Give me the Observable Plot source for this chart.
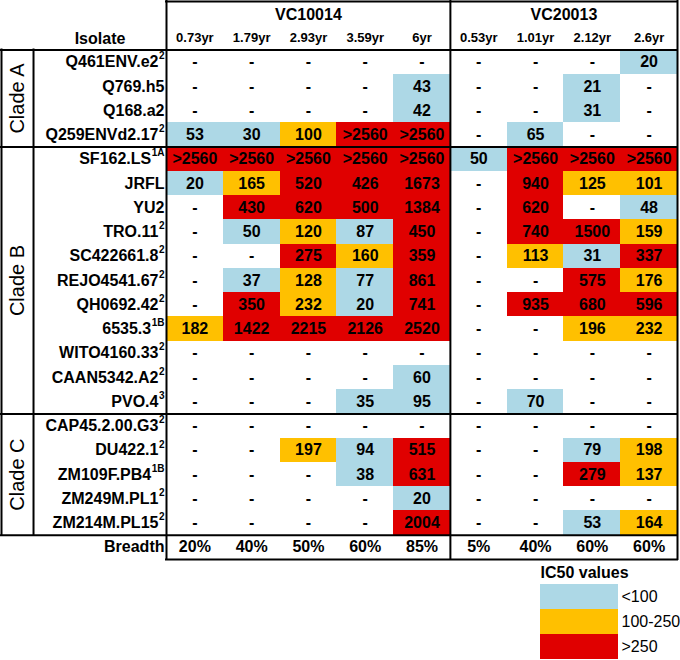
<!DOCTYPE html>
<html><head><meta charset="utf-8">
<script src="https://cdn.jsdelivr.net/npm/d3@7"></script>
<script src="https://cdn.jsdelivr.net/npm/@observablehq/plot@0.6"></script>
<style>body{margin:0;background:#fff;} svg{display:block;}</style>
</head><body><div id="chart"></div>
<script>
// ---- data ----
const groups = ["VC10014", "VC20013"];
const groupSizes = [5, 4];
const timepoints = ["0.73yr","1.79yr","2.93yr","3.59yr","6yr","0.53yr","1.01yr","2.12yr","2.6yr"];
const clades = ["Clade A", "Clade B", "Clade C"];
const cladeSizes = [4, 11, 5];
const isolates = ["Q461ENV.e2","Q769.h5","Q168.a2","Q259ENVd2.17",
  "SF162.LS","JRFL","YU2","TRO.11","SC422661.8","REJO4541.67","QH0692.42","6535.3","WITO4160.33","CAAN5342.A2","PVO.4",
  "CAP45.2.00.G3","DU422.1","ZM109F.PB4","ZM249M.PL1","ZM214M.PL15"];
const superscripts = ["2","","","2",
  "1A","","","2","2","2","2","1B","2","2","3",
  "2","2","1B","2","2"];
const ic50 = [
  [null,null,null,null,null, null,null,null,20],
  [null,null,null,null,43, null,null,21,null],
  [null,null,null,null,42, null,null,31,null],
  [53,30,100,">2560",">2560", null,65,null,null],
  [">2560",">2560",">2560",">2560",">2560", 50,">2560",">2560",">2560"],
  [20,165,520,426,1673, null,940,125,101],
  [null,430,620,500,1384, null,620,null,48],
  [null,50,120,87,450, null,740,1500,159],
  [null,null,275,160,359, null,113,31,337],
  [null,37,128,77,861, null,null,575,176],
  [null,350,232,20,741, null,935,680,596],
  [182,1422,2215,2126,2520, null,null,196,232],
  [null,null,null,null,null, null,null,null,null],
  [null,null,null,null,60, null,null,null,null],
  [null,null,null,35,95, null,70,null,null],
  [null,null,null,null,null, null,null,null,null],
  [null,null,197,94,515, null,null,79,198],
  [null,null,null,38,631, null,null,279,137],
  [null,null,null,null,20, null,null,null,null],
  [null,null,null,null,2004, null,null,53,164]
];
const breadth = ["20%","40%","50%","60%","85%","5%","40%","60%","60%"];
const legendLabels = ["<100", "100-250", ">250"];
const legendColors = ["#add8e6", "#ffc000", "#e00000"];

// ---- layout constants (in column units) ----
const LEFT = -2.906, CLADE_END = -2.342;
const nCols = timepoints.length, nRows = isolates.length;
const FONT = "'Liberation Sans', Arial, sans-serif";

function category(v) {
  if (v === null) return null;
  if (typeof v === "string") return ">250";
  if (v < 100) return "<100";
  if (v <= 250) return "100-250";
  return ">250";
}

const cells = [];
ic50.forEach((row, r) => row.forEach((v, c) => cells.push({r, c, cat: category(v), label: v === null ? "-" : String(v)})));
breadth.forEach((b, c) => cells.push({r: nRows, c, cat: null, label: b}));

const rowLabels = isolates.map((name, r) => ({name, sup: superscripts[r], r}));
rowLabels.push({name: "Breadth", sup: "", r: nRows});

const groupData = [];
{ let s = 0; groups.forEach((g, i) => { groupData.push({g, start: s, size: groupSizes[i]}); s += groupSizes[i]; }); }
const cladeData = [];
{ let s = 0; clades.forEach((n, i) => { cladeData.push({name: n, start: s, size: cladeSizes[i]}); s += cladeSizes[i]; }); }

// borders
const hLines = [{y: -2, x1: 0, x2: nCols}, {y: 0, x1: LEFT, x2: nCols}];
cladeData.forEach(d => hLines.push({y: d.start + d.size, x1: LEFT, x2: nCols}));
hLines.push({y: nRows + 1, x1: 0, x2: nCols});
const vLines = [{x: LEFT, y1: 0, y2: nRows}, {x: CLADE_END, y1: 0, y2: nRows}, {x: 0, y1: -2, y2: nRows + 1}];
groupData.forEach(d => vLines.push({x: d.start + d.size, y1: -2, y2: nRows + 1}));

// superscript widths
const ctx = document.createElement("canvas").getContext("2d");
ctx.font = "bold 10px 'Liberation Sans'";
const supTypes = [...new Set(rowLabels.map(d => d.sup))];
const labelMarks = [];
supTypes.forEach(s => {
  const w = s ? ctx.measureText(s).width + 0.5 : 0;
  const subset = rowLabels.filter(d => d.sup === s);
  labelMarks.push(Plot.text(subset, {x: 0, y: d => d.r + 0.5, text: "name", textAnchor: "end", dx: -2 - w, fontWeight: "bold", fontSize: 16}));
  if (s) labelMarks.push(Plot.text(subset, {x: 0, y: d => d.r + 0.5, text: "sup", textAnchor: "end", dx: -2, dy: -6, fontWeight: "bold", fontSize: 10}));
});

const main = Plot.plot({
  width: 680, height: 560, margin: 0,
  style: {fontFamily: FONT, color: "black", background: "white", overflow: "visible"},
  x: {domain: [LEFT, nCols], range: [1, 677], axis: null},
  y: {domain: [-2, nRows + 1], range: [1, 559], axis: null},
  color: {domain: legendLabels, range: legendColors},
  marks: [
    Plot.rect(cells.filter(d => d.cat), {x1: "c", x2: d => d.c + 1, y1: "r", y2: d => d.r + 1, fill: "cat", shapeRendering: "crispEdges"}),
    Plot.text(cells, {x: d => d.c + 0.5, y: d => d.r + 0.5, text: "label", fontWeight: "bold", fontSize: 16}),
    Plot.text(groupData, {x: d => d.start + d.size / 2, y: -1.45, text: "g", fontWeight: "bold", fontSize: 16}),
    Plot.text(timepoints, {x: (d, i) => i + 0.5, y: -0.5, text: d => d, fontWeight: "bold", fontSize: 13}),
    Plot.text(["Isolate"], {x: CLADE_END / 2, y: -0.45, text: d => d, fontWeight: "bold", fontSize: 16}),
    ...labelMarks,
    Plot.text(cladeData, {x: (LEFT + CLADE_END) / 2, y: d => d.start + d.size / 2, text: "name", rotate: -90, fontSize: 20}),
    Plot.ruleY(hLines, {y: "y", x1: "x1", x2: "x2", stroke: "black", strokeWidth: 2, strokeLinecap: "square"}),
    Plot.ruleX(vLines, {x: "x", y1: "y1", y2: "y2", stroke: "black", strokeWidth: 2, strokeLinecap: "square"})
  ]
});

const legend = Plot.plot({
  width: 680, height: 100,
  marginLeft: 540, marginRight: 62, marginTop: 23, marginBottom: 0,
  style: {fontFamily: FONT, color: "black", background: "white", overflow: "visible"},
  y: {domain: legendLabels, axis: null, padding: 0},
  color: {domain: legendLabels, range: legendColors},
  marks: [
    Plot.cell(legendLabels, {y: d => d, fill: d => d}),
    Plot.text(legendLabels, {y: d => d, text: d => d, frameAnchor: "right", textAnchor: "start", dx: 3, fontSize: 16}),
    Plot.text(["IC50 values"], {frameAnchor: "top-left", textAnchor: "start", lineAnchor: "middle", dy: -11, text: d => d, fontWeight: "bold", fontSize: 16})
  ]
});

const root = document.getElementById("chart");
root.appendChild(main);
root.appendChild(legend);
</script>
</body></html>
